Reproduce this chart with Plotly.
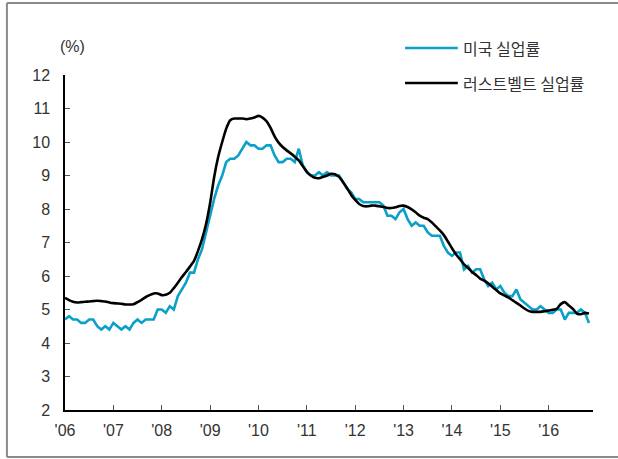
import plotly.graph_objects as go

# Monthly data, Jan 2006 - Nov 2016
months = list(range(131))
us_rate = [
    4.7, 4.8, 4.7, 4.7, 4.6, 4.6, 4.7, 4.7, 4.5, 4.4, 4.5, 4.4,
    4.6, 4.5, 4.4, 4.5, 4.4, 4.6, 4.7, 4.6, 4.7, 4.7, 4.7, 5.0,
    5.0, 4.9, 5.1, 5.0, 5.4, 5.6, 5.8, 6.1, 6.1, 6.5, 6.8, 7.3,
    7.8, 8.3, 8.7, 9.0, 9.4, 9.5, 9.5, 9.6, 9.8, 10.0, 9.9, 9.9,
    9.8, 9.8, 9.9, 9.9, 9.6, 9.4, 9.4, 9.5, 9.5, 9.4, 9.8, 9.3,
    9.1, 9.0, 9.0, 9.1, 9.0, 9.1, 9.0, 9.0, 9.0, 8.8, 8.6, 8.5,
    8.3, 8.3, 8.2, 8.2, 8.2, 8.2, 8.2, 8.1, 7.8, 7.8, 7.7, 7.9,
    8.0, 7.7, 7.5, 7.6, 7.5, 7.5, 7.3, 7.2, 7.2, 7.2, 6.9, 6.7,
    6.6, 6.7, 6.7, 6.2, 6.3, 6.1, 6.2, 6.2, 5.9, 5.7, 5.8, 5.6,
    5.7, 5.5, 5.4, 5.4, 5.6, 5.3, 5.2, 5.1, 5.0, 5.0, 5.1, 5.0,
    4.9, 4.9, 5.0, 5.0, 4.7, 4.9, 4.9, 4.9, 5.0, 4.9, 4.6,
]
rust_rate = [
    5.35, 5.28, 5.23, 5.21, 5.22, 5.23, 5.24, 5.25, 5.26, 5.25, 5.24, 5.21,
    5.19, 5.18, 5.17, 5.15, 5.15, 5.16, 5.22, 5.29, 5.37, 5.43, 5.48, 5.48,
    5.43, 5.44, 5.50, 5.64, 5.80, 5.97, 6.12, 6.28, 6.45, 6.75, 7.10, 7.55,
    8.17, 8.95, 9.55, 10.0, 10.4, 10.65, 10.7, 10.7, 10.7, 10.68, 10.7, 10.73,
    10.78, 10.73, 10.62, 10.42, 10.17, 9.98, 9.85, 9.75, 9.66, 9.56, 9.45, 9.28,
    9.11, 9.0, 8.93, 8.92, 8.96, 9.0, 9.05, 9.04, 8.96, 8.8, 8.62, 8.42,
    8.27, 8.15, 8.09, 8.08, 8.1, 8.1, 8.08, 8.06, 8.03, 8.03, 8.05, 8.09,
    8.1, 8.06, 7.99, 7.9, 7.8, 7.74, 7.7, 7.6, 7.48, 7.36, 7.22, 7.03,
    6.83, 6.65, 6.5, 6.35, 6.24, 6.12, 6.03, 5.92, 5.86, 5.78, 5.68, 5.58,
    5.48, 5.42, 5.36, 5.28, 5.2, 5.12, 5.03, 4.96, 4.93, 4.93, 4.93, 4.95,
    4.97, 4.99, 5.02, 5.16, 5.22, 5.12, 5.02, 4.88, 4.86, 4.9, 4.88,
]
tick_vals = [0, 12, 24, 36, 48, 60, 72, 84, 96, 108, 120]
tick_text = ["'06", "'07", "'08", "'09", "'10", "'11", "'12", "'13", "'14", "'15", "'16"]
series_names = ["미국 실업률", "러스트벨트 실업률"]

CYAN = "#0aa0c8"
BLACK = "#000000"
FONT = "Noto Sans CJK KR, Liberation Sans, sans-serif"
NUMFONT = "Liberation Sans, Arial, sans-serif"

fig = go.Figure()
fig.add_trace(go.Scatter(x=months, y=us_rate, mode="lines", name=series_names[0],
                         line=dict(color=CYAN, width=2.6), showlegend=False))
fig.add_trace(go.Scatter(x=months, y=rust_rate, mode="lines", name=series_names[1],
                         line=dict(color=BLACK, width=2.6, shape="spline", smoothing=0.5),
                         showlegend=False))

shapes = [
    # outer frame (top, left, bottom)
    dict(type="line", xref="paper", yref="paper", x0=-0.110, x1=1.06, y0=1.215, y1=1.215,
         line=dict(color="#8a8a8a", width=2)),
    dict(type="line", xref="paper", yref="paper", x0=-0.110, x1=-0.110, y0=1.215, y1=-0.140,
         line=dict(color="#8a8a8a", width=2)),
    dict(type="line", xref="paper", yref="paper", x0=-0.110, x1=1.06, y0=-0.140, y1=-0.140,
         line=dict(color="#8a8a8a", width=2)),
    # legend samples
    dict(type="line", xref="paper", yref="paper", x0=0.644, x1=0.744, y0=1.0806, y1=1.0806,
         line=dict(color=CYAN, width=2.6)),
    dict(type="line", xref="paper", yref="paper", x0=0.644, x1=0.744, y0=0.976, y1=0.976,
         line=dict(color=BLACK, width=2.6)),
]
annotations = [
    dict(text="(%)", xref="paper", yref="paper", x=0.015, y=1.0836, showarrow=False,
         xanchor="center", yanchor="middle", font=dict(size=16, color="#333333", family=NUMFONT)),
    dict(text=series_names[0], xref="paper", yref="paper", x=0.750, y=1.0806, showarrow=False,
         xanchor="left", yanchor="middle", font=dict(size=16, color="#333333", family=FONT)),
    dict(text=series_names[1], xref="paper", yref="paper", x=0.750, y=0.976, showarrow=False,
         xanchor="left", yanchor="middle", font=dict(size=16, color="#333333", family=FONT)),
]

fig.update_layout(
    width=618, height=459,
    margin=dict(l=65, r=25, t=75, b=49),
    paper_bgcolor="white", plot_bgcolor="white",
    font=dict(family=FONT, size=16, color="#333333"),
    shapes=shapes, annotations=annotations,
    xaxis=dict(range=[0, 131], tickvals=tick_vals, ticktext=tick_text,
               showgrid=False, zeroline=False, showline=True, linecolor="black", linewidth=1.5,
               ticks="inside", ticklen=5, tickcolor="#555555", tickwidth=1,
               ticklabelstandoff=5,
               tickfont=dict(size=16, color="#333333", family=NUMFONT)),
    yaxis=dict(range=[2, 12], dtick=1, showgrid=False, zeroline=False,
               showline=True, linecolor="black", linewidth=1.5,
               ticks="inside", ticklen=5, tickcolor="#555555", tickwidth=1,
               ticklabelstandoff=10,
               tickfont=dict(size=16, color="#333333", family=NUMFONT)),
)

fig.write_html("out.html", config={"displayModeBar": False},
               post_script="document.body.style.margin='0px';")
